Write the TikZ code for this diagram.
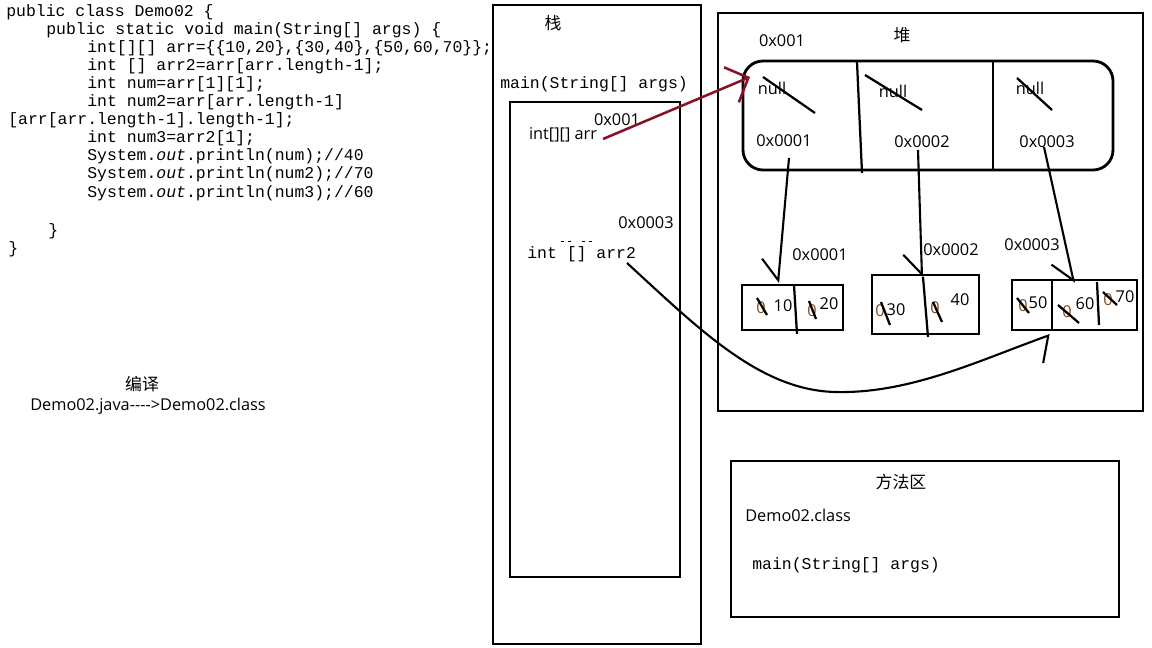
\documentclass[tikz,border=0pt]{standalone}
\usepackage{fontspec}
\setmainfont{Open Sans}
\setmonofont{Liberation Mono}
\newfontfamily\cjk{Noto Sans CJK SC}
\usetikzlibrary{arrows.meta}
\definecolor{ptrred}{RGB}{135,18,38}
\definecolor{oldval}{RGB}{130,75,25}
\tikzset{
  code/.style={anchor=base west, inner sep=0pt, font=\fontsize{11.7}{14}\ttfamily},
  lbl/.style={inner sep=0pt, font=\fontsize{11.6}{13}\selectfont},
  zh/.style={inner sep=0pt, font=\fontsize{12}{14}\cjk},
  area/.style={draw, line width=2pt},
  cell/.style={draw, line width=2pt},
  stroke/.style={line width=1.6pt},
  link/.style={line width=1.5pt, -{Straight Barb[right, length=5mm, width=9mm]}},
}
\begin{document}
\begin{tikzpicture}[x=0.025cm, y=-0.025cm]
\useasboundingbox (0,0) rectangle (1152,648);
\node[code] (code1) at (6,17) {public class Demo02 \{};
\node[code] (code2) at (46,35) {public static void main(String[] args) \{};
\node[code] (code3) at (87,53) {int[][] arr=\{\{10,20\},\{30,40\},\{50,60,70\}\};};
\node[code] (code4) at (87,71) {int [] arr2=arr[arr.length-1];};
\node[code] (code5) at (87,89) {int num=arr[1][1];};
\node[code] (code6) at (87,107) {int num2=arr[arr.length-1]};
\node[code] (code7) at (8,125) {[arr[arr.length-1].length-1];};
\node[code] (code8) at (87,143) {int num3=arr2[1];};
\node[code] (code9) at (87,161) {System.\textit{out}.println(num);//40};
\node[code] (code10) at (87,179) {System.\textit{out}.println(num2);//70};
\node[code] (code11) at (87,198) {System.\textit{out}.println(num3);//60};
\node[code] (code12) at (48,236) {\}};
\node[code] (code13) at (8,254) {\}};
\node[zh] (compile) at (142,384) {编译};
\node[lbl] (javac) at (148,406) {Demo02.java-{}-{}-{}->Demo02.class};
\draw[area] (493,5) rectangle (701,644);
\draw[area] (510,102) rectangle (680,577);
\node[zh] (stack) at (553,23) {栈};
\node[code] (frame) at (500,89) {main(String[] args)};
\node[lbl] (addr1) at (617,120) {0x001};
\node[lbl] (arrvar) at (563,135) {int[][] arr};
\node[lbl] (addr3) at (646,223) {0x0003};
\node[code] (arr2var) at (527,259) {int [] arr2};
\draw[line width=0.6pt] (561,241) -- (564,241) (568,241) -- (571,241) (582,241) -- (585,241) (589,241) -- (592,241);
\draw[area] (718,13) rectangle (1143,411);
\node[zh] (heap) at (902,35) {堆};
\node[lbl] (heapaddr) at (782,41) {0x001};
\draw[area, rounded corners=0.5cm] (743,61) rectangle (1113,170);
\draw[stroke] (857,62) -- (862,173);
\draw[stroke] (993,62) -- (993,170);
\node[lbl] (null1) at (772,88) {null};
\node[lbl] (null2) at (893,91) {null};
\node[lbl] (null3) at (1030,88) {null};
\draw[stroke] (763,77) -- (815,113);
\draw[stroke] (865,75) -- (922,110);
\draw[stroke] (1017,78) -- (1052,110);
\node[lbl] (ref1) at (784,141) {0x0001};
\node[lbl] (ref2) at (922,142) {0x0002};
\node[lbl] (ref3) at (1047,142) {0x0003};
\draw[cell] (742,285) rectangle (843,330);
\draw[stroke] (794,285) -- (797,334);
\node[lbl] (addra1) at (820,255) {0x0001};
\node[lbl, oldval] (z11) at (761,308) {0};
\node[lbl] (v10) at (783,306) {10};
\node[lbl, oldval] (z12) at (812,311) {0};
\node[lbl] (v20) at (829,304) {20};
\draw[stroke] (757,298) -- (767,315);
\draw[stroke] (809,301) -- (816,319);
\draw[cell] (872,275) rectangle (979,334);
\draw[stroke] (923,277) -- (928,337);
\node[lbl] (addra2) at (951,250) {0x0002};
\node[lbl, oldval] (z21) at (880,311) {0};
\node[lbl] (v30) at (896,310) {30};
\node[lbl, oldval] (z22) at (935,308) {0};
\node[lbl] (v40) at (960,300) {40};
\draw[stroke] (881,302) -- (890,325);
\draw[stroke] (933,302) -- (942,322);
\draw[cell] (1012,280) rectangle (1137,330);
\draw[cell] (1052,280) -- (1052,330);
\draw[stroke] (1097,282) -- (1099,325);
\node[lbl] (addra3) at (1032,245) {0x0003};
\node[lbl, oldval] (z31) at (1023,306) {0};
\node[lbl] (v50) at (1038,303) {50};
\node[lbl, oldval] (z32) at (1067,312) {0};
\node[lbl] (v60) at (1085,304) {60};
\node[lbl, oldval] (z33) at (1108,300) {0};
\node[lbl] (v70) at (1125,297) {70};
\draw[stroke] (1017,298) -- (1029,313);
\draw[stroke] (1058,305) -- (1079,323);
\draw[stroke] (1103,292) -- (1117,305);
\coordinate (arrout) at (603,139);
\coordinate (heapin) at (750,77);
\coordinate (h1) at (789,158);
\coordinate (a1) at (778,283);
\coordinate (h2) at (918,150);
\coordinate (a2) at (922,277);
\coordinate (h3) at (1044,147);
\coordinate (a3) at (1074,283);
\coordinate (arr2out) at (627,263);
\coordinate (a3in) at (1050,335);
\draw[ptrred, line width=1.8pt, -{Straight Barb[length=4.6mm, width=9.5mm]}] (arrout) -- (heapin);
\draw[link] (h1) -- (a1);
\draw[link] (h2) -- (a2);
\draw[link] (h3) -- (a3);
\draw[line width=1.5pt, -{Straight Barb[right, length=3.5mm, width=12mm]}] (arr2out) .. controls (700,330) and (760,390) .. (835,392) .. controls (910,394) and (980,360) .. (a3in);
\draw[area] (731,461) rectangle (1119,617);
\node[zh] (method) at (901,482) {方法区};
\node[lbl, anchor=west] (classname) at (745,515) {Demo02.class};
\node[code] (mainsig) at (752,570) {main(String[] args)};
\end{tikzpicture}
\end{document}
